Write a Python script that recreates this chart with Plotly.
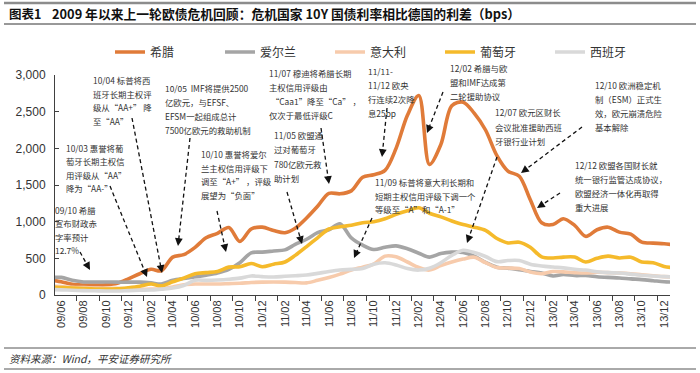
import plotly.graph_objects as go
import pandas as pd

# ---------------- data (monthly, 2009-05 .. 2014-01) ----------------
months = pd.date_range("2009-05-01", "2014-01-01", freq="MS")

greece = [210, 180, 145, 136, 136, 140, 160, 220, 290, 350, 330,
          517, 550, 650, 780, 840, 920, 730, 900, 925, 880,
          850, 910, 1050, 1210, 1387, 1380, 1420, 1605, 1640, 1700,
          2000, 2450, 2720, 1780, 2050, 2580, 2630, 2480, 2250, 1900,
          1690, 1620, 1300, 985, 960, 1040, 950, 800, 890, 925,
          857, 830, 721, 707, 700, 680]
ireland = [235, 240, 200, 178, 178, 178, 175, 175, 175, 165, 150,
           200, 225, 245, 270, 300, 350, 440, 575, 585, 600,
           615, 690, 760, 850, 890, 970, 780, 680, 620, 650,
           670, 630, 570, 517, 565, 585, 580, 530, 445, 380,
           367, 345, 320, 300, 260, 280, 265, 265, 250, 240,
           232, 220, 210, 195, 180, 175]
italy = [120, 115, 105, 100, 95, 90, 90, 85, 80, 80, 85,
         110, 140, 150, 150, 150, 155, 160, 170, 175, 177,
         175, 170, 165, 200, 240, 285, 340, 380, 420, 530,
         520, 450, 375, 340, 400, 450, 490, 515, 440, 375,
         368, 360, 313, 290, 320, 315, 305, 300, 310, 305,
         300, 290, 275, 262, 250, 245]
portugal = [110, 100, 95, 88, 82, 80, 85, 100, 120, 150, 125,
            180, 230, 290, 305, 320, 380, 385, 430, 385, 420,
            450, 540, 660, 780, 900, 930, 950, 985, 1000, 1040,
            1100, 1150, 1190, 1115, 1065, 1010, 960, 925, 880, 770,
            710, 720, 650, 520, 505, 517, 517, 450, 500, 530,
            505, 515, 450, 440, 390, 370]
spain = [75, 70, 65, 60, 58, 55, 55, 60, 65, 68, 80,
         95, 130, 200, 200, 205, 215, 230, 260, 250, 245,
         255, 262, 272, 295, 320, 340, 350, 362, 420, 440,
         410, 360, 340, 365, 440, 540, 610, 580, 525, 455,
         470, 470, 420, 395, 381, 370, 350, 340, 318, 305,
         299, 285, 270, 260, 250, 245]

series_names = ["希腊", "爱尔兰", "意大利", "葡萄牙", "西班牙"]
series_colors = ["#E07B39", "#A5A5A5", "#F7CBAC", "#F5BA2B", "#D9D9D9"]
series_values = [greece, ireland, italy, portugal, spain]

tick_dates = pd.date_range("2009-06-01", "2013-12-01", freq="2MS")
tick_labels = ["09/06", "09/08", "09/10", "09/12", "10/02", "10/04", "10/06",
               "10/08", "10/10", "10/12", "11/02", "11/04", "11/06", "11/08",
               "11/10", "11/12", "12/02", "12/04", "12/06", "12/08", "12/10",
               "12/12", "13/02", "13/04", "13/06", "13/08", "13/10", "13/12"]

# ---------------- figure ----------------
CJK = "Noto Sans CJK SC"
fig = go.Figure()
for name, color, vals in zip(series_names, series_colors, series_values):
    fig.add_trace(go.Scatter(x=months, y=vals, name=name, mode="lines",
                             line=dict(color=color, width=3.6, shape="spline",
                                       smoothing=0.9)))

L, R, T, B = 55, 30, 75, 78
W, H = 700, 373
PW, PH = W - L - R, H - T - B


def px(x):
    return (x - L) / PW


def py(y):
    return (H - B - y) / PH


fig.update_layout(
    width=W, height=H,
    margin=dict(l=L, r=R, t=T, b=B, autoexpand=False),
    plot_bgcolor="white", paper_bgcolor="white",
    font=dict(family=CJK, size=11, color="#333333"),
    showlegend=True,
    legend=dict(orientation="h", x=px(110), xanchor="left", y=py(52),
                yanchor="middle", font=dict(family=CJK, size=12, color="#333333"),
                itemwidth=30, entrywidth=65, entrywidthmode="pixels",
                bgcolor="rgba(0,0,0,0)"),
    xaxis=dict(type="date", range=["2009-05-15", "2013-12-17"],
               tickvals=tick_dates, ticktext=tick_labels, tickangle=-90,
               ticks="", showgrid=False, showline=True, linecolor="#404040",
               linewidth=1, zeroline=False,
               tickfont=dict(family="Liberation Sans", size=11, color="#333333"),
               minor=dict(ticks="outside", ticklen=5, tickcolor="#404040",
                          tick0="2009-07-12", dtick="M2", showgrid=False)),
    yaxis=dict(range=[0, 3000], dtick=500, tickformat=",", showgrid=False,
               showline=True, linecolor="#404040", linewidth=1, zeroline=False,
               ticks="inside", ticklen=4, tickcolor="#404040",
               ticklabelstandoff=6,
               tickfont=dict(family="Liberation Sans", size=12, color="#333333")),
)

shapes = []
annos = []

# title & footer
shapes.append(dict(type="line", xref="paper", yref="paper", x0=px(4), x1=px(696),
                   y0=py(3), y1=py(3), line=dict(color="#8c8c8c", width=2.5)))
shapes.append(dict(type="line", xref="paper", yref="paper", x0=px(4), x1=px(696),
                   y0=py(24), y1=py(24), line=dict(color="#333333", width=1)))
shapes.append(dict(type="line", xref="paper", yref="paper", x0=px(4), x1=px(696),
                   y0=py(348), y1=py(348), line=dict(color="#555555", width=1)))
shapes.append(dict(type="line", xref="paper", yref="paper", x0=px(4), x1=px(696),
                   y0=py(369), y1=py(369), line=dict(color="#555555", width=1)))
annos.append(dict(text="<b>图表1</b>", xref="paper", yref="paper", x=px(7), y=py(14),
                  xanchor="left", yanchor="middle", showarrow=False,
                  font=dict(family=CJK, size=12.5, color="#111111")))
annos.append(dict(text="<b>2009 年以来上一轮欧债危机回顾：危机国家 10Y 国债利率相比德国的利差（bps）</b>",
                  xref="paper", yref="paper", x=px(50), y=py(14), xanchor="left",
                  yanchor="middle", showarrow=False,
                  font=dict(family=CJK, size=12.8, color="#111111")))
annos.append(dict(text="<i>资料来源：Wind，平安证券研究所</i>", xref="paper", yref="paper",
                  x=px(7), y=py(358), xanchor="left", yanchor="middle", showarrow=False,
                  font=dict(family=CJK, size=10.5, color="#333333")))

# text blocks: (left x, first line y, spacing, lines)
blocks = [
    (91, 80, 13.7, ["10/04 标普将西", "班牙长期主权评", "级从“AA+” 降", "至“AA”"]),
    (64, 148, 13.3, ["10/03 惠誉将葡", "萄牙长期主权信", "用评级从“AA”", "降为“AA-”"]),
    (53, 210, 13.3, ["09/10 希腊", "宣布财政赤", "字率预计", "12.7%"]),
    (163, 88, 14, ["10/05  IMF将提供2500", "亿欧元，与EFSF、", "EFSM一起组成总计", "7500亿欧元的救助机制"]),
    (199, 154, 13.7, ["10/10 惠誉将爱尔", "兰主权信用评级下", "调至“A+” ，评级", "展望为“负面”"]),
    (267, 73, 14, ["11/07 穆迪将希腊长期", "主权信用评级由", " “Caa1”降至“Ca” ，", "仅次于最低评级C"]),
    (272, 135, 14.3, ["11/05 欧盟通", "过对葡萄牙", "780亿欧元救", "助计划"]),
    (366, 71, 14, ["11/11-", "11/12 欧央", "行连续2次降", "息25bp"]),
    (448, 68, 14, ["12/02 希腊与欧", "盟和IMF达成第", "二轮援助协议"]),
    (493, 112, 14.5, ["12/07 欧元区财长", "会议批准援助西班", "牙银行业计划"]),
    (593, 85, 14, ["12/10 欧洲稳定机", "制（ESM）正式生", "效，欧元崩溃危险", "基本解除"]),
    (573, 165, 14, ["12/12 欧盟各国财长就", "统一银行监管达成协议，", "欧盟经济一体化再取得", "重大进展"]),
    (373, 182, 13.5, ["11/09 标普将意大利长期和", "短期主权信用评级下调一个", "等级至“A”和“A-1”"]),
]
for x0, y0, sp, lines in blocks:
    for i, t in enumerate(lines):
        annos.append(dict(text=t, xref="paper", yref="paper", x=px(x0), y=py(y0 + i * sp),
                          xanchor="left", yanchor="middle", showarrow=False,
                          font=dict(family=CJK, size=8.4, color="#333333")))

# dashed arrows: (start x, start y, tip x, tip y) in px
arrows = [
    (80, 252, 90, 270),
    (110, 186, 147, 277),
    (132, 118, 162, 273),
    (190, 138, 178, 246),
    (217, 211, 226, 252),
    (321, 128, 329, 184),
    (287, 192, 302, 244),
    (387, 108, 382, 157),
    (443, 92, 427, 133),
    (497, 157, 467, 243),
    (582, 127, 521, 173),
    (560, 193, 537, 208),
    (372, 218, 354, 258),
]
for sx, sy, tx, ty in arrows:
    dx, dy = sx - tx, sy - ty
    n = (dx * dx + dy * dy) ** 0.5
    ux, uy = dx / n, dy / n
    shapes.append(dict(type="line", xref="paper", yref="paper",
                       x0=px(sx), y0=py(sy), x1=px(tx + ux * 4), y1=py(ty + uy * 4),
                       line=dict(color="#111111", width=1.3, dash="4px,3px")))
    annos.append(dict(text="", xref="paper", yref="paper", x=px(tx), y=py(ty),
                      ax=ux * 9, ay=uy * 9, showarrow=True, arrowhead=2,
                      arrowsize=1.2, arrowwidth=1.3, arrowcolor="#111111"))

fig.update_layout(shapes=shapes, annotations=annos)
fig.write_html("out.html", config={"displayModeBar": False},
               post_script="document.body.style.margin='0';document.body.style.overflow='hidden';")
